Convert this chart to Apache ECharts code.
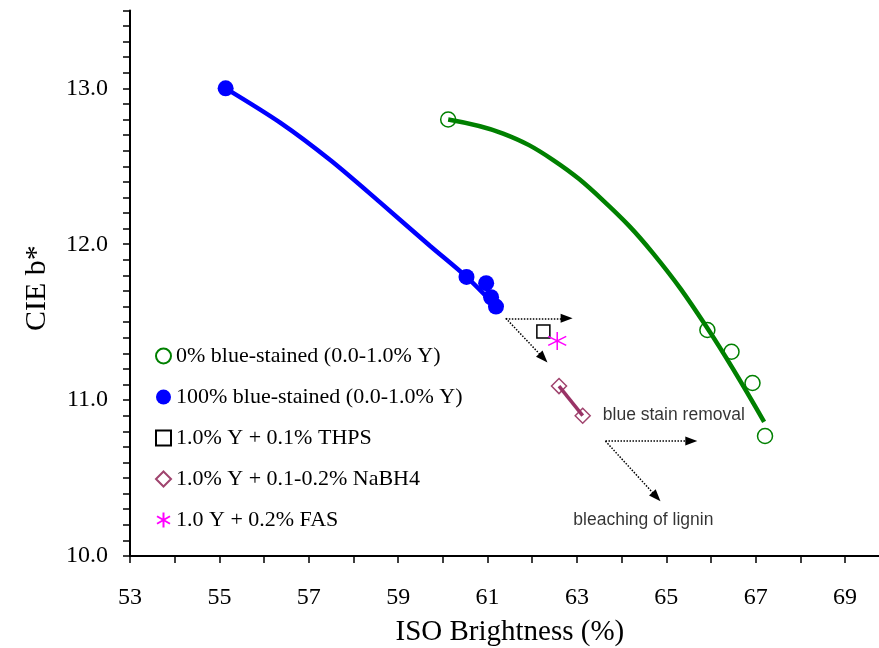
<!DOCTYPE html>
<html>
<head>
<meta charset="utf-8">
<script src="https://cdn.jsdelivr.net/npm/echarts@6/dist/echarts.min.js"></script>
<style>
  html, body { margin: 0; padding: 0; background: #fff; }
  #chart { width: 879px; height: 648px; }
</style>
</head>
<body>
<div id="chart"></div>
<script>
// ISO brightness (%) vs CIE b* for bleached pulps
const seriesNames = [
  '0% blue-stained (0.0-1.0% Y)',
  '100% blue-stained (0.0-1.0% Y)',
  '1.0% Y + 0.1% THPS',
  '1.0% Y + 0.1-0.2% NaBH4',
  '1.0 Y + 0.2% FAS'
];

// measured points [ISO brightness, b*]
const unstained = [[60.12, 12.80], [65.92, 11.45], [66.46, 11.31], [66.93, 11.11], [67.21, 10.77]];
const stained   = [[55.14, 13.00], [60.53, 11.79], [60.97, 11.75], [61.08, 11.66], [61.19, 11.60]];
const thps      = [[62.25, 11.44]];
const nabh4     = [[62.60, 11.09], [63.13, 10.90]];
const fas       = [[62.56, 11.38]];

// trend curves traced along each data set
const unstainedFit = [[60.12, 12.80], [61.35, 12.71], [62.47, 12.54], [63.59, 12.28],
                      [64.71, 11.94], [65.90, 11.47], [67.19, 10.86]];
const stainedFit   = [[55.14, 13.00], [56.36, 12.78], [57.48, 12.54], [58.59, 12.27], [59.71, 11.99],
                      [60.53, 11.79], [61.19, 11.60]];

// direction arrows: [start, end]
const arrows = [
  [[61.41, 11.525], [62.77, 11.525]],
  [[61.41, 11.525], [62.25, 11.27]],
  [[63.64, 10.737], [65.56, 10.737]],
  [[63.64, 10.737], [64.78, 10.38]]
];
const notes = [[63.58, 10.904, 'blue stain removal'], [62.92, 10.231, 'bleaching of lignin']];

// axis ticks
const xMin = 53, xMax = 70, xStep = 1;
const yMin = 10, yMax = 13.5, yStep = 0.1;

const serif = 'Liberation Serif, Times New Roman, serif';
const sans = 'Liberation Sans, Arial, sans-serif';
const asterisk = 'path://M0,-10L0,10M-8.66,-5L8.66,5M-8.66,5L8.66,-5';

const chart = echarts.init(document.getElementById('chart'), null, { renderer: 'canvas' });

chart.setOption({
  backgroundColor: '#ffffff',
  animation: false,
  grid: { left: 130, top: 10.4, bottom: 92, width: 759.7, containLabel: false, outerBoundsMode: 'none' },
  legend: {
    data: seriesNames,
    orient: 'vertical',
    left: 150,
    top: 340,
    itemWidth: 15,
    itemHeight: 15,
    itemGap: 19,
    textStyle: { fontFamily: serif, fontSize: 22, color: '#000', lineHeight: 22 },
    selectedMode: false
  },
  xAxis: {
    type: 'value',
    min: xMin, max: xMax, interval: xStep,
    name: 'ISO Brightness (%)',
    nameLocation: 'middle',
    nameGap: 62,
    nameTextStyle: { fontFamily: serif, fontSize: 29, color: '#000' },
    axisLine: { onZero: false, lineStyle: { color: '#000', width: 2 } },
    axisTick: { length: 7, lineStyle: { color: '#000', width: 1.5 } },
    axisLabel: {
      margin: 30,
      fontFamily: serif, fontSize: 24, color: '#000',
      formatter: v => (Math.round(v) % 2 === 1 ? String(Math.round(v)) : '')
    },
    splitLine: { show: false }
  },
  yAxis: {
    type: 'value',
    min: yMin, max: yMax, interval: yStep,
    name: 'CIE b*',
    nameLocation: 'middle',
    nameGap: 78,
    nameRotate: 90,
    nameTextStyle: { fontFamily: serif, fontSize: 30, color: '#000', padding: [0, 10, 0, 0] },
    axisLine: { onZero: false, lineStyle: { color: '#000', width: 2 } },
    axisTick: { length: 7, lineStyle: { color: '#000', width: 1.5 } },
    axisLabel: {
      margin: 22,
      fontFamily: serif, fontSize: 24, color: '#000',
      formatter: v => (Math.abs(v - Math.round(v)) < 1e-6 ? v.toFixed(1) : '')
    },
    splitLine: { show: false }
  },
  series: [
    {
      name: 'unstained trend', type: 'line', data: unstainedFit, smooth: 0.4,
      showSymbol: false, lineStyle: { color: '#008000', width: 4.5 }, z: 3
    },
    {
      name: 'stained trend', type: 'line', data: stainedFit, smooth: 0.3,
      showSymbol: false, lineStyle: { color: '#0000ff', width: 4.5 }, z: 2
    },
    {
      name: 'NaBH4 range', type: 'line', data: nabh4, showSymbol: false,
      lineStyle: { color: '#993366', width: 3.5 }, z: 5
    },
    {
      name: seriesNames[0], type: 'scatter', data: unstained, symbol: 'circle', symbolSize: 15,
      itemStyle: { color: 'rgba(255,255,255,0)', borderColor: '#008000', borderWidth: 1.5, opacity: 1 }, z: 4
    },
    {
      name: seriesNames[1], type: 'scatter', data: stained, symbol: 'circle', symbolSize: 16,
      itemStyle: { color: '#0000ff', opacity: 1 }, z: 4
    },
    {
      name: seriesNames[2], type: 'scatter', data: thps, symbol: 'rect', symbolSize: 13,
      itemStyle: { color: 'rgba(255,255,255,0)', borderColor: '#000', borderWidth: 1.5, opacity: 1 }, z: 4
    },
    {
      name: seriesNames[3], type: 'scatter', data: nabh4, symbol: 'diamond', symbolSize: 15,
      itemStyle: { color: 'rgba(255,255,255,0)', borderColor: '#a0446e', borderWidth: 1.5, opacity: 1 }, z: 4
    },
    {
      name: seriesNames[4], type: 'scatter', data: fas, symbol: asterisk, symbolSize: 18,
      itemStyle: { color: 'rgba(0,0,0,0)', borderColor: '#ff00ff', borderWidth: 1.5, opacity: 1 }, z: 4
    },
    {
      name: 'annotations', type: 'scatter', data: notes, symbolSize: 0, silent: true,
      label: {
        show: true, position: 'right', distance: 0,
        formatter: p => p.data[2],
        fontFamily: sans, fontSize: 17.5, color: '#000'
      },
      markLine: {
        silent: true,
        symbol: ['none', 'triangle'],
        symbolSize: [9, 12],
        label: { show: false },
        lineStyle: { color: '#000', type: 'dotted', width: 1.5 },
        data: arrows.map(a => [{ coord: a[0] }, { coord: a[1] }])
      }
    }
  ]
});
</script>
</body>
</html>
